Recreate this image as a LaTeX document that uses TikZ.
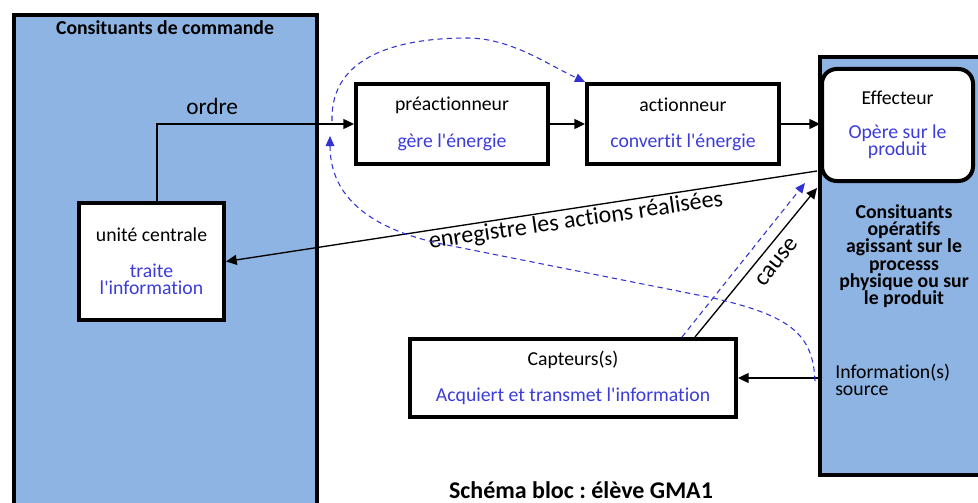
\documentclass[tikz,border=0pt]{standalone}
\usepackage{fontspec}
\setmainfont{Carlito}
\newfontfamily\cfont{Carlito}[Ligatures=CommonOff]
\usetikzlibrary{arrows.meta}
\definecolor{fillblue}{RGB}{141,180,226}
\definecolor{tblue}{RGB}{60,60,220}
\definecolor{dblue}{RGB}{50,50,210}
\frenchspacing
\newcommand\fntbody{\cfont\fontsize{14.8}{12.75}\selectfont\lineskiplimit=-50pt\lineskip=0pt\relax}
\newcommand\fntbold{\cfont\bfseries\fontsize{14.8}{13}\selectfont\lineskiplimit=-50pt\lineskip=0pt\relax}
\newcommand\fntbig{\cfont\fontsize{18}{20}\selectfont}
\newcommand\fntord{\cfont\fontsize{17.5}{20}\selectfont}
\newcommand\fnttitle{\cfont\bfseries\fontsize{18}{20}\selectfont}
\begin{document}
\begin{tikzpicture}[x=0.75pt,y=-0.75pt,
 bigbox/.style={draw=black,line width=3pt,fill=fillblue},
 block/.style={draw=black,line width=3pt,fill=white,align=center,font=\fntbody,inner sep=0pt},
 arr/.style={draw=black,line width=1pt,-{Triangle[length=8pt,width=7.5pt]}},
 bluearr/.style={draw=dblue,line width=0.8pt,dash pattern=on 4pt off 3pt,-{Triangle[length=7.5pt,width=6.5pt,fill=dblue]}},
 txt/.style={font=\fntbody,inner sep=0pt}]
\useasboundingbox (0,0) rectangle (978,503);
\clip (0,0) rectangle (978,503);
\fill[white] (0,0) rectangle (978,503);
% big boxes
\draw[bigbox] (14,15) rectangle (317,530);
\draw[bigbox] (820,57) rectangle (1000,475);
\node[txt,font=\fntbold,anchor=base] (t1) at (165,35) {Consituants de commande};
\node[txt,font=\fntbold,align=center] (op) at (904,256) {Consituants\\opératifs\\agissant sur le\\processs\\physique ou sur\\le produit};
\node[txt,align=left,anchor=west] (info) at (835,379.5) {Information(s)\\source};
% blocks
\node[block,minimum width=108.75pt,minimum height=87.75pt] (uc) at (151.5,261.5) {unité centrale\\[14.25pt]\color{tblue}traite\\\color{tblue}l'information};
\node[block,minimum width=144pt,minimum height=60pt] (pre) at (452,124) {préactionneur\\[15pt]\color{tblue}gère l'énergie};
\node[block,minimum width=144pt,minimum height=60pt] (act) at (683,124) {actionneur\\[14.25pt]\color{tblue}convertit l'énergie};
\node[block,rounded corners=11pt,minimum width=113.25pt,minimum height=84pt] (eff) at (897.5,125) {Effecteur\\[12.75pt]\color{tblue}Opère sur le\\\color{tblue}produit};
\node[block,minimum width=244.5pt,minimum height=58.5pt] (cap) at (573,378) {Capteurs(s)\\[14.25pt]\color{tblue}Acquiert et transmet l'information};
% connectors
\coordinate (src) at (820,378);
\draw[arr] (src) -- (cap.east);
\draw[arr] (157,0 |- uc.north) |- node[pos=0.64,above=6.5pt,inner sep=0pt,font=\fntord] (ordre) {ordre} (pre.west);
\draw[arr] (pre.east) -- (act.west);
\draw[arr] (act.east) -- (act.east -| eff.west);
\coordinate (e1) at (817,171);
\draw[arr] (e1) -- (uc.east);
\node[inner sep=0pt,rotate=8.3,font=\fntbig] (enr) at (576,221) {enregistre les actions réalisées};
\coordinate (c1) at (817,188);
\draw[arr] (695,0 |- cap.north) -- (c1);
\node[inner sep=0pt,rotate=51.6,font=\fntbig] (cs) at (777,262) {cause};
\coordinate (b1) at (805,183);
\draw[bluearr] (682,0 |- cap.north) -- (b1);
\coordinate (lc0) at (815,381);
\coordinate (lc) at (330,136);
\draw[bluearr] (lc0) .. controls (813,335) and (792,316) .. (713,298) -- (447,245) .. controls (360,228) and (330,190) .. (lc);
\coordinate (up0) at (332,121);
\draw[bluearr] (up0) .. controls (330,55) and (400,38) .. (467,38) .. controls (510,38) and (545,63) .. (act.north west);
\node[txt,font=\fnttitle,anchor=base] (title) at (581,498) {Schéma bloc : élève GMA1};
\end{tikzpicture}
\end{document}
